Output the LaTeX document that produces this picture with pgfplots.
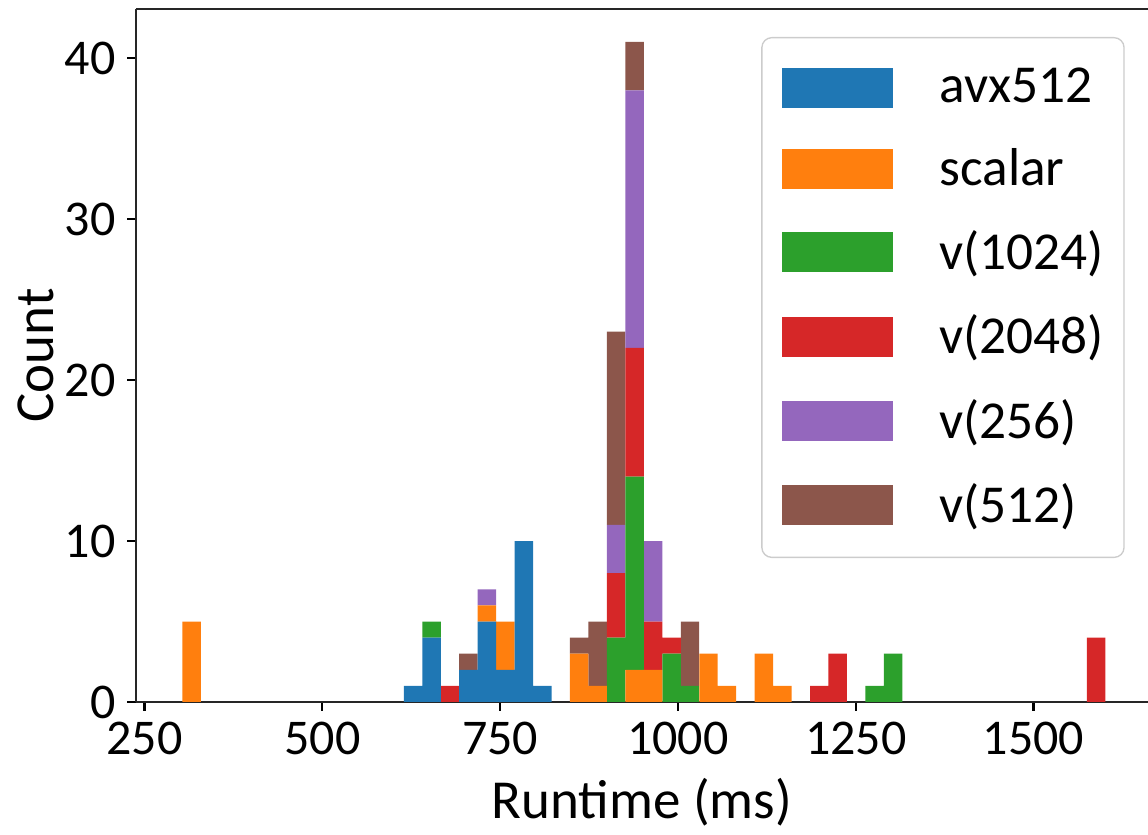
\documentclass[border=0pt]{standalone}
\usepackage{fontspec}
\setmainfont{Carlito}
\usepackage{pgfplots}
\usepackage{pgfplotstable}
\pgfplotsset{compat=1.18}

\definecolor{cavx}{HTML}{1F77B4}
\definecolor{cscal}{HTML}{FF7F0E}
\definecolor{cva}{HTML}{2CA02C}
\definecolor{cvb}{HTML}{D62728}
\definecolor{cvc}{HTML}{9467BD}
\definecolor{cvd}{HTML}{8C564B}

% bin centre (ms) and counts per variant, bins of ~26 ms
\pgfplotstableread{
x      avx scalar v1024 v2048 v256 v512
316.1  0   5      0     0     0    0
627.6  1   0      0     0     0    0
653.6  4   0      1     0     0    0
679.5  0   0      0     1     0    0
705.5  2   0      0     0     0    1
731.4  5   1      0     0     1    0
757.4  2   3      0     0     0    0
783.4  10  0      0     0     0    0
809.3  1   0      0     0     0    0
861.2  0   3      0     0     0    1
887.2  0   1      0     0     0    4
913.2  0   0      4     4     3    12
939.1  0   2      12    8     16   3
965.1  0   2      0     3     5    0
991.0  0   0      3     1     0    0
1017.0 0   0      1     0     0    4
1043.0 0   3      0     0     0    0
1068.9 0   1      0     0     0    0
1120.8 0   3      0     0     0    0
1146.8 0   1      0     0     0    0
1198.7 0   0      0     1     0    0
1224.7 0   0      0     3     0    0
1276.6 0   0      1     0     0    0
1302.6 0   0      3     0     0    0
1588.1 0   0      0     4     0    0
}\runtimes

\begin{document}
\begin{tikzpicture}
\begin{axis}[scale only axis, width=303.6pt, height=207.9pt,
  xmin=238, xmax=1661, ymin=0, ymax=43.05,
  ybar stacked, bar width=25.96,
  axis x line*=box, axis y line*=left,
  axis line style={line width=0.7pt, black!85},
  xtick={250,500,750,1000,1250,1500}, ytick={0,10,20,30,40},
  xtick pos=left, ytick pos=left, tick align=outside,
  major tick length=2.6pt, tick style={line width=0.7pt, black},
  /pgf/number format/assume math mode=true, /pgf/number format/1000 sep={},
  tick label style={font=\fontsize{15}{17}\selectfont},
  label style={font=\fontsize{16.5}{19}\selectfont},
  xlabel={Runtime (ms)}, ylabel={Count}, ylabel shift=-3.6pt,
  legend style={at={(0.977,0.9596)}, anchor=north east, draw=black!20,
    rounded corners=3pt, font=\fontsize{16}{19}\selectfont,
    inner xsep=6pt, inner ysep=9pt, row sep=12.1pt, column sep=14pt,
    nodes={inner sep=0pt}},
  legend cell align=left,
  legend image code/.code={\fill[#1, sharp corners] (0pt,-6pt) rectangle (33.3pt,6pt);}]
\addplot[fill=cavx, draw=none] table[x=x, y=avx] {\runtimes};
\addlegendentry{avx512}
\addplot[fill=cscal, draw=none] table[x=x, y=scalar] {\runtimes};
\addlegendentry{scalar}
\addplot[fill=cva, draw=none] table[x=x, y=v1024] {\runtimes};
\addlegendentry{v(1024)}
\addplot[fill=cvb, draw=none] table[x=x, y=v2048] {\runtimes};
\addlegendentry{v(2048)}
\addplot[fill=cvc, draw=none] table[x=x, y=v256] {\runtimes};
\addlegendentry{v(256)}
\addplot[fill=cvd, draw=none] table[x=x, y=v512] {\runtimes};
\addlegendentry{v(512)}
\coordinate (bl) at (rel axis cs:0,0);
\coordinate (tr) at (rel axis cs:1,1);
\end{axis}
\pgfresetboundingbox
\path[use as bounding box] ([xshift=-40.8pt, yshift=-39.9pt]bl) rectangle ([yshift=2.7pt]tr);
\end{tikzpicture}
\end{document}
